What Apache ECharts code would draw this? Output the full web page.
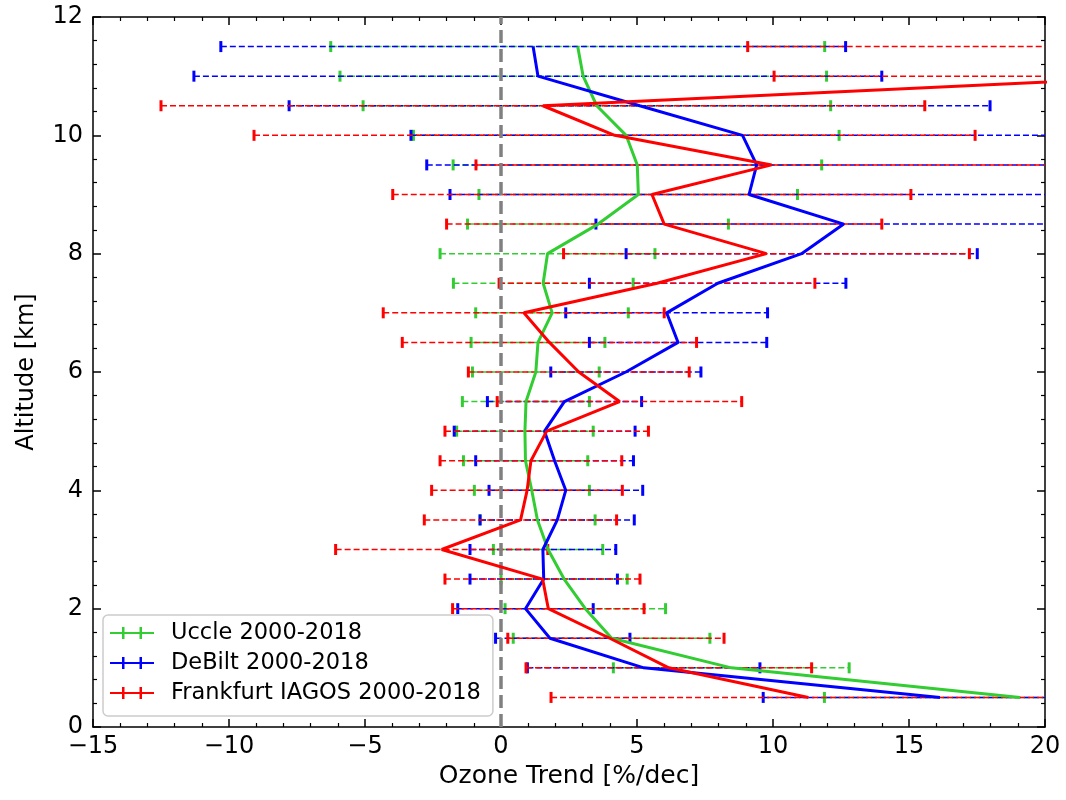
<!DOCTYPE html>
<html>
<head>
<meta charset="utf-8">
<script src="https://cdn.jsdelivr.net/npm/echarts@6/dist/echarts.min.js"></script>
<style>
  html, body { margin: 0; padding: 0; background: #fff; }
  #chart { width: 1066px; height: 800px; }
</style>
</head>
<body>
<div id="chart"></div>
<script>
// altitude levels [km]
var altitudes = [0.5, 1.0, 1.5, 2.0, 2.5, 3.0, 3.5, 4.0, 4.5, 5.0, 5.5, 6.0,
                 6.5, 7.0, 7.5, 8.0, 8.5, 9.0, 9.5, 10.0, 10.5, 11.0, 11.5];

// Uccle trend and error bar bounds [%/dec]
var uccleTrend = [19.08, 8.47, 4.07, 3.10, 2.32, 1.73, 1.34, 1.13, 0.90, 0.88, 0.92, 1.28,
                  1.36, 1.88, 1.55, 1.71, 3.57, 5.05, 5.01, 4.60, 3.52, 3.02, 2.82];
var uccleLow = [11.89, 4.13, 0.45, 0.15, 0.0, -0.28, -0.77, -0.98, -1.38, -1.63, -1.42, -1.05,
                -1.10, -0.93, -1.75, -2.24, -1.23, -0.81, -1.76, -3.22, -5.07, -5.92, -6.26];
var uccleHigh = [26.27, 12.8, 7.68, 6.05, 4.64, 3.74, 3.46, 3.25, 3.19, 3.39, 3.25, 3.61,
                 3.82, 4.68, 4.86, 5.66, 8.36, 10.9, 11.79, 12.43, 12.12, 11.97, 11.9];

// De Bilt
var debiltTrend = [16.14, 5.25, 1.8, 0.9, 1.57, 1.54, 2.07, 2.38, 1.97, 1.6, 2.33, 4.59,
                   6.51, 6.09, 7.97, 11.05, 12.6, 9.12, 9.4, 8.88, 5.1, 1.36, 1.18];
var debiltLow = [9.64, 0.97, -0.2, -1.59, -1.14, -1.14, -0.77, -0.44, -0.93, -1.72, -0.5, 1.83,
                 3.25, 2.38, 3.25, 4.6, 3.49, -1.875, -2.73, -3.31, -7.79, -11.29, -10.3];
var debiltHigh = [22.64, 9.52, 4.74, 3.39, 4.28, 4.22, 4.9, 5.21, 4.87, 4.93, 5.17, 7.35,
                  9.77, 9.8, 12.68, 17.51, 21.7, 20.1, 21.53, 21.07, 17.98, 14.0, 12.67];

// Frankfurt IAGOS
var iagosTrend = [11.3, 6.17, 4.0, 1.74, 1.53, -2.18, 0.72, 0.96, 1.1, 1.68, 4.36, 2.86,
                  1.78, 0.84, 5.74, 9.76, 6.0, 5.55, 9.95, 4.18, 1.54, 24.6, 26.0];
var iagosLow = [1.84, 0.92, 0.25, -1.78, -2.06, -6.08, -2.82, -2.55, -2.24, -2.06, -0.14, -1.20,
                -3.63, -4.33, -0.07, 2.3, -2.0, -3.98, -0.92, -9.08, -12.5, 10.04, 9.07];
var iagosHigh = [20.76, 11.42, 8.2, 5.26, 5.11, 1.72, 4.25, 4.46, 4.44, 5.42, 8.85, 6.92,
                 7.19, 6.0, 11.54, 17.22, 14.0, 15.07, 20.82, 17.43, 15.58, 39.2, 43.0];

var names = ['Uccle 2000-2018', 'DeBilt 2000-2018', 'Frankfurt IAGOS 2000-2018'];
var colors = ['#32cd32', '#0000ff', '#ff0000'];
var FONT = 'DejaVu Sans';

function linePts(trend) {
  return altitudes.map(function (a, i) { return [trend[i], a]; });
}
function barPts(lo, hi) {
  return altitudes.map(function (a, i) { return [lo[i], hi[i], a]; });
}

// error bar: dashed horizontal line + caps
function errRender(color) {
  return function (params, api) {
    var y = api.value(2);
    var p1 = api.coord([api.value(0), y]);
    var p2 = api.coord([api.value(1), y]);
    var h = 5.5;
    return {
      type: 'group',
      children: [
        { type: 'line', shape: { x1: p1[0], y1: p1[1], x2: p2[0], y2: p2[1] },
          style: { stroke: color, lineWidth: 1.5, lineDash: [6, 3] } },
        { type: 'line', shape: { x1: p1[0], y1: p1[1] - h, x2: p1[0], y2: p1[1] + h },
          style: { stroke: color, lineWidth: 3 } },
        { type: 'line', shape: { x1: p2[0], y1: p2[1] - h, x2: p2[0], y2: p2[1] + h },
          style: { stroke: color, lineWidth: 3 } }
      ]
    };
  };
}

var minus = function (v) { return String(v).replace('-', '\u2212'); };

var tickStyle = { show: true, inside: true, length: 8, lineStyle: { color: '#000', width: 1.5 } };
var minorStyle = { show: true, length: 4, lineStyle: { color: '#000', width: 1.2 } };
var lineSty = { show: true, onZero: false, lineStyle: { color: '#000', width: 1.5 } };

var series = [];
var errData = [[uccleLow, uccleHigh], [debiltLow, debiltHigh], [iagosLow, iagosHigh]];
var trends = [uccleTrend, debiltTrend, iagosTrend];
for (var k = 0; k < 3; k++) {
  series.push({
    name: names[k],
    type: 'custom',
    clip: true,
    z: 2 + k * 0.1,
    renderItem: errRender(colors[k]),
    encode: { x: [0, 1], y: 2 },
    data: barPts(errData[k][0], errData[k][1])
  });
}
// zero reference line
series.push({
  type: 'line',
  silent: true,
  z: 3,
  symbol: 'none',
  lineStyle: { color: '#808080', width: 3.5, type: [13, 6] },
  data: [[0, 0], [0, 12]]
});
for (var j = 0; j < 3; j++) {
  series.push({
    name: names[j],
    type: 'line',
    clip: true,
    z: 4 + j * 0.1,
    symbol: 'none',
    color: colors[j],
    lineStyle: { color: colors[j], width: 3 },
    data: linePts(trends[j])
  });
}

var icon = 'path://M0,5 H44 V7 H0 Z M12,0 H14.5 V12 H12 Z M29.5,0 H32 V12 H29.5 Z';

var chart = echarts.init(document.getElementById('chart'));
chart.setOption({
  animation: false,
  backgroundColor: '#fff',
  textStyle: { fontFamily: FONT },
  grid: { left: 93, right: 21, top: 17, bottom: 73 },
  legend: {
    orient: 'vertical',
    left: 103, top: 615,
    padding: [6, 12, 11, 7],
    itemGap: 6,
    itemWidth: 44, itemHeight: 12,
    backgroundColor: '#fff',
    borderColor: '#cccccc', borderWidth: 1.5, borderRadius: 5,
    textStyle: { fontSize: 22.5, lineHeight: 24, color: '#000', fontFamily: FONT, padding: [0, 0, 0, 12] },
    data: names.map(function (n, i) {
      return { name: n, icon: icon, itemStyle: { color: colors[i] } };
    })
  },
  xAxis: [{
    type: 'value', min: -15, max: 20, interval: 5,
    name: 'Ozone Trend [%/dec]', nameLocation: 'middle', nameGap: 36,
    nameTextStyle: { fontSize: 25, color: '#000', fontFamily: FONT },
    axisLine: lineSty, axisTick: tickStyle,
    minorTick: Object.assign({ splitNumber: 5 }, minorStyle),
    splitLine: { show: false },
    axisLabel: { fontSize: 24, color: '#000', margin: 8, formatter: minus }
  }, {
    type: 'value', position: 'top', min: -15, max: 20, interval: 5,
    axisLine: lineSty, axisTick: tickStyle,
    minorTick: Object.assign({ splitNumber: 5 }, minorStyle),
    splitLine: { show: false }, axisLabel: { show: false }
  }],
  yAxis: [{
    type: 'value', min: 0, max: 12, interval: 2,
    name: 'Altitude [km]', nameLocation: 'middle', nameGap: 54,
    nameTextStyle: { fontSize: 24, color: '#000', fontFamily: FONT },
    axisLine: lineSty, axisTick: tickStyle,
    minorTick: Object.assign({ splitNumber: 5 }, minorStyle),
    splitLine: { show: false },
    axisLabel: { fontSize: 24, color: '#000', margin: 10, formatter: minus }
  }, {
    type: 'value', position: 'right', min: 0, max: 12, interval: 2,
    axisLine: lineSty, axisTick: tickStyle,
    minorTick: Object.assign({ splitNumber: 5 }, minorStyle),
    splitLine: { show: false }, axisLabel: { show: false }
  }],
  series: series
});
</script>
</body>
</html>
